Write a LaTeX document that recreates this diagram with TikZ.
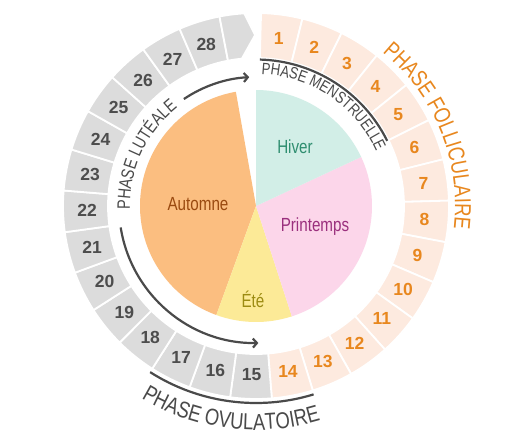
\documentclass[tikz,border=0pt]{standalone}
\usepackage{fontspec}
\setmainfont{Liberation Sans}
\newfontfamily\narrowfont[FakeStretch=0.8]{Liberation Sans}
\usetikzlibrary{decorations.text,arrows.meta}

\definecolor{cellgray}{HTML}{DCDCDC}
\definecolor{cellpeach}{HTML}{FDEADF}
\definecolor{numgray}{HTML}{4D4D4D}
\definecolor{numorange}{HTML}{E8871E}
\definecolor{linegray}{HTML}{4A4A4A}
\definecolor{hiverfill}{HTML}{D2EEE7}
\definecolor{hivertext}{HTML}{2F8E70}
\definecolor{printfill}{HTML}{FCD6EA}
\definecolor{printtext}{HTML}{9A2F7D}
\definecolor{etefill}{HTML}{FCEA97}
\definecolor{etetext}{HTML}{9C8B12}
\definecolor{autfill}{HTML}{FBBE80}
\definecolor{auttext}{HTML}{9A4A10}

\tikzset{
  daycell/.style={draw=white, line width=1.8pt},
  daynum/.style={font=\fontsize{17.5}{17.5}\bfseries\selectfont},
  season/.style={font=\narrowfont\fontsize{19}{19}\selectfont},
  phaseline/.style={draw=linegray, line width=2.2pt},
  phasetext/.style={decorate, decoration={text along path, text align=center, text color=#1}},
}

\begin{document}
\begin{tikzpicture}[x=1pt,y=1pt]
  \fill[white] (-256,-239) rectangle (255,206);
  % saisons
  \fill[autfill] (0,0) -- (100:116) arc[start angle=100, end angle=250, radius=116] -- cycle;
  \fill[etefill] (0,0) -- (250:116) arc[start angle=250, end angle=288, radius=116] -- cycle;
  \fill[printfill] (0,0) -- (-72:116) arc[start angle=-72, end angle=25, radius=116] -- cycle;
  \fill[hiverfill] (0,0) -- (25:116) arc[start angle=25, end angle=90, radius=116] -- cycle;
  \node[season, text=hivertext] (hiver) at (39,59) {Hiver};
  \node[season, text=auttext] (automne) at (-58,2) {Automne};
  \node[season, text=printtext] (printemps) at (59,-21) {Printemps};
  \node[season, text=etetext] (ete) at (-3,-93) {Été};
  % jours
  \foreach \i in {1,...,28}{
    \pgfmathsetmacro\a{88.5-(\i-1)*360/29}
    \pgfmathsetmacro\b{\a-360/29}
    \pgfmathsetmacro\m{\a-180/29}
    \ifnum\i<15 \def\cf{cellpeach}\def\nc{numorange}\else\def\cf{cellgray}\def\nc{numgray}\fi
    \filldraw[daycell, fill=\cf] (\a:148) arc[start angle=\a, end angle=\b, radius=148]
      -- (\b:193) arc[start angle=\b, end angle=\a, radius=193] -- cycle;
    \node[daynum, text=\nc] (d\i) at (\m:169) {\i};
  }
  \filldraw[daycell, fill=cellgray] (100.9:148) -- (100.9:193)
    arc[start angle=100.9, end angle=93.5, radius=193] -- (90.3:171) -- (95.5:148)
    arc[start angle=95.5, end angle=100.9, radius=148];
  % phases
  \draw[phaseline] (88.5:146.5) arc[start angle=88.5, end angle=26.4, radius=146.5];
  \draw[phaseline] (237.5:197) arc[start angle=237.5, end angle=287, radius=197];
  \draw[phaseline, -{Straight Barb[length=4pt, width=9pt]}] (124:129) arc[start angle=124, end angle=93, radius=129];
  \draw[phaseline, -{Straight Barb[length=4pt, width=9pt]}] (189:137) arc[start angle=189, end angle=271, radius=137];
  \path[phasetext=linegray, decoration={text={|\narrowfont\fontsize{16.5}{16.5}\selectfont|PHASE MENSTRUELLE}}]
    (89:132) arc[start angle=89, end angle=23, radius=132];
  \path[phasetext=linegray, decoration={text={|\narrowfont\fontsize{18}{18}\selectfont|PHASE LUTÉALE}}]
    (183:126) arc[start angle=183, end angle=127, radius=126];
  \path[phasetext=numorange, decoration={text={|\narrowfont\fontsize{23}{23}\selectfont|PHASE FOLLICULAIRE}}]
    (52:199) arc[start angle=52, end angle=-8, radius=199];
  \path[phasetext=linegray, decoration={text={|\narrowfont\fontsize{23}{23}\selectfont|PHASE OVULATOIRE}}]
    (236:224) arc[start angle=236, end angle=290, radius=224];
\end{tikzpicture}
\end{document}
